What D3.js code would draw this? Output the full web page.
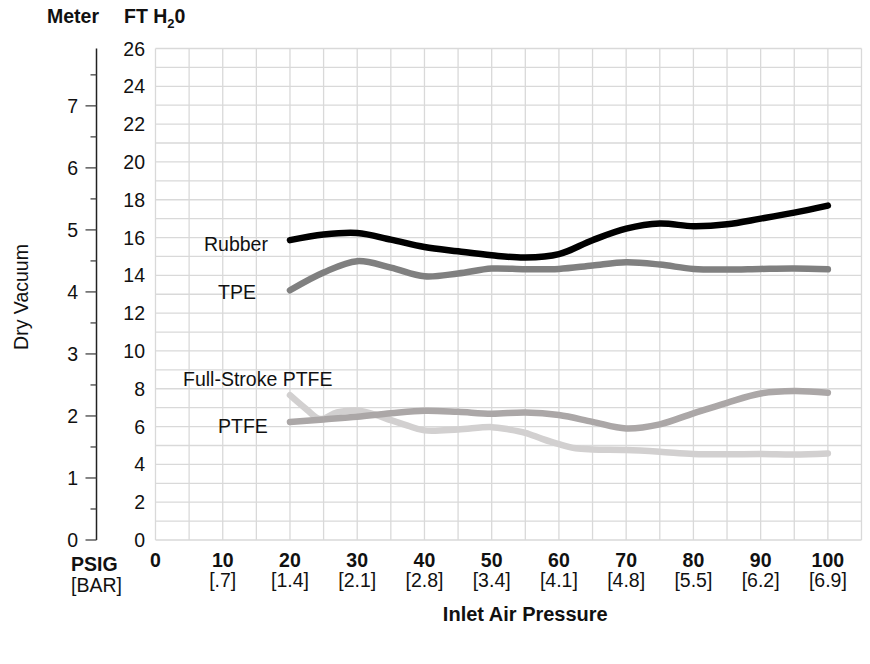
<!DOCTYPE html>
<html>
<head>
<meta charset="utf-8">
<script src="https://cdn.jsdelivr.net/npm/d3@7"></script>
<style>
  body { margin: 0; background: #fff; }
  text { font-family: "Liberation Sans", Arial, sans-serif; fill: #111; font-size: 19.5px; }
  .bold { font-weight: bold; }
</style>
</head>
<body>
<div id="chart"></div>
<script>
// psig readings
var psig = [20, 25, 30, 35, 40, 45, 50, 55, 60, 65, 70, 75, 80, 85, 90, 95, 100];

// dry vacuum, ft H2O
var rubber = [15.86, 16.16, 16.24, 15.89, 15.5, 15.27, 15.06, 14.94, 15.12, 15.86, 16.47, 16.74, 16.6, 16.7, 17.0, 17.32, 17.69];
var tpe    = [13.21, 14.15, 14.75, 14.41, 13.95, 14.1, 14.36, 14.32, 14.34, 14.52, 14.69, 14.57, 14.34, 14.31, 14.34, 14.36, 14.32];
var ptfe   = [6.24, 6.38, 6.52, 6.7, 6.84, 6.78, 6.68, 6.75, 6.61, 6.25, 5.9, 6.12, 6.7, 7.26, 7.75, 7.88, 7.79];

// full-stroke has its own reading points (wiggle near the start)
var fsPsig = [20, 22.5, 24.5, 27, 30, 32.5, 35, 37.5, 40, 45, 50, 52.5, 55, 57.5, 60, 62.5, 65, 70, 75, 80, 85, 90, 95, 100];
var fullStroke = [7.66, 6.9, 6.4, 6.75, 6.85, 6.65, 6.34, 6.05, 5.8, 5.85, 5.97, 5.85, 5.67, 5.35, 5.07, 4.85, 4.79, 4.76, 4.67, 4.55, 4.53, 4.55, 4.52, 4.58];

var seriesNames = ["Full-Stroke PTFE", "PTFE", "TPE", "Rubber"];

var xTicks = [0, 10, 20, 30, 40, 50, 60, 70, 80, 90, 100];
var barLabels = ["", "[.7]", "[1.4]", "[2.1]", "[2.8]", "[3.4]", "[4.1]", "[4.8]", "[5.5]", "[6.2]", "[6.9]"];
var ftTicks = [0, 2, 4, 6, 8, 10, 12, 14, 16, 18, 20, 22, 24, 26];
var meterTicks = [0, 1, 2, 3, 4, 5, 6, 7];

var width = 870, height = 664;
var M_TO_FT = 3.28084;

var svg = d3.select("#chart").append("svg")
    .attr("width", width)
    .attr("height", height);

var x = d3.scaleLinear()
    .domain([0, 105])
    .range([155.5, 861.5]);

var y = d3.scaleLinear()
    .domain([0, 26])
    .range([540, 48.5]);

// grid
var grid = svg.append("g").attr("class", "grid");

grid.selectAll(".vline")
    .data(d3.range(0, 106, 5))
  .enter().append("line")
    .attr("x1", function(d){ return x(d); })
    .attr("x2", function(d){ return x(d); })
    .attr("y1", y(0))
    .attr("y2", y(26))
    .attr("stroke", "#d9d9d9")
    .attr("stroke-width", 1.3);

grid.selectAll(".hline")
    .data(d3.range(0, 27, 1))
  .enter().append("line")
    .attr("x1", x(0))
    .attr("x2", x(105))
    .attr("y1", function(d){ return y(d); })
    .attr("y2", function(d){ return y(d); })
    .attr("stroke", "#d9d9d9")
    .attr("stroke-width", 1.3);

// ft labels
svg.selectAll(".ftLabel")
    .data(ftTicks)
  .enter().append("text")
    .attr("x", 145)
    .attr("y", function(d){ return y(d); })
    .attr("dy", "0.36em")
    .attr("text-anchor", "end")
    .text(function(d){ return d; });

// meter axis on the left
var axisX = 96.5;
svg.append("line")
    .attr("x1", axisX).attr("x2", axisX)
    .attr("y1", y(26)).attr("y2", y(0))
    .attr("stroke", "#222")
    .attr("stroke-width", 1.5);

svg.selectAll(".mMinor")
    .data(d3.range(0.5, 8, 1))
  .enter().append("line")
    .attr("x1", axisX - 6).attr("x2", axisX)
    .attr("y1", function(d){ return y(d * M_TO_FT); })
    .attr("y2", function(d){ return y(d * M_TO_FT); })
    .attr("stroke", "#444")
    .attr("stroke-width", 1.3);

svg.selectAll(".mMajor")
    .data(meterTicks)
  .enter().append("line")
    .attr("x1", axisX - 11).attr("x2", axisX)
    .attr("y1", function(d){ return y(d * M_TO_FT); })
    .attr("y2", function(d){ return y(d * M_TO_FT); })
    .attr("stroke", "#444")
    .attr("stroke-width", 1.3);

svg.selectAll(".mLabel")
    .data(meterTicks)
  .enter().append("text")
    .attr("x", 78)
    .attr("y", function(d){ return y(d * M_TO_FT); })
    .attr("dy", "0.36em")
    .attr("text-anchor", "end")
    .text(function(d){ return d; });

// headers
svg.append("text")
    .attr("class", "bold")
    .attr("x", 47).attr("y", 23)
    .text("Meter");

var ftHead = svg.append("text")
    .attr("class", "bold")
    .attr("x", 124).attr("y", 23);
ftHead.append("tspan").text("FT H");
ftHead.append("tspan").attr("dy", 5).style("font-size", "13px").text("2");
ftHead.append("tspan").attr("dy", -5).text("0");

svg.append("text")
    .attr("transform", "translate(28,297) rotate(-90)")
    .attr("text-anchor", "middle")
    .text("Dry Vacuum");

// bottom labels
svg.selectAll(".xLabel")
    .data(xTicks)
  .enter().append("text")
    .attr("class", "bold")
    .attr("x", function(d){ return x(d); })
    .attr("y", 567)
    .attr("text-anchor", "middle")
    .text(function(d){ return d; });

svg.selectAll(".barLabel")
    .data(xTicks)
  .enter().append("text")
    .attr("x", function(d){ return x(d); })
    .attr("y", 587)
    .attr("text-anchor", "middle")
    .text(function(d, i){ return barLabels[i]; });

svg.append("text")
    .attr("class", "bold")
    .attr("x", 71).attr("y", 571)
    .text("PSIG");

svg.append("text")
    .attr("x", 71).attr("y", 592)
    .text("[BAR]");

svg.append("text")
    .attr("class", "bold")
    .attr("x", x(55)).attr("y", 621)
    .attr("text-anchor", "middle")
    .style("font-size", "20px")
    .text("Inlet Air Pressure");

// curves
var line = d3.line()
    .x(function(d){ return x(d[0]); })
    .y(function(d){ return y(d[1]); })
    .curve(d3.curveCatmullRom.alpha(0.5));

var series = [
  { name: seriesNames[0], xs: fsPsig, ys: fullStroke, color: "#d2d0d0", lx: 183, ly: 386 },
  { name: seriesNames[1], xs: psig, ys: ptfe, color: "#aba7a7", lx: 218, ly: 433 },
  { name: seriesNames[2], xs: psig, ys: tpe, color: "#808080", lx: 218, ly: 299 },
  { name: seriesNames[3], xs: psig, ys: rubber, color: "#000000", lx: 204, ly: 251 }
];

svg.selectAll(".curve")
    .data(series)
  .enter().append("path")
    .attr("class", "curve")
    .attr("d", function(s){ return line(s.xs.map(function(v, i){ return [v, s.ys[i]]; })); })
    .attr("fill", "none")
    .attr("stroke", function(s){ return s.color; })
    .attr("stroke-width", 6.5)
    .attr("stroke-linecap", "round")
    .attr("stroke-linejoin", "round");

svg.selectAll(".seriesLabel")
    .data(series)
  .enter().append("text")
    .attr("x", function(s){ return s.lx; })
    .attr("y", function(s){ return s.ly; })
    .text(function(s){ return s.name; });
</script>
</body>
</html>
